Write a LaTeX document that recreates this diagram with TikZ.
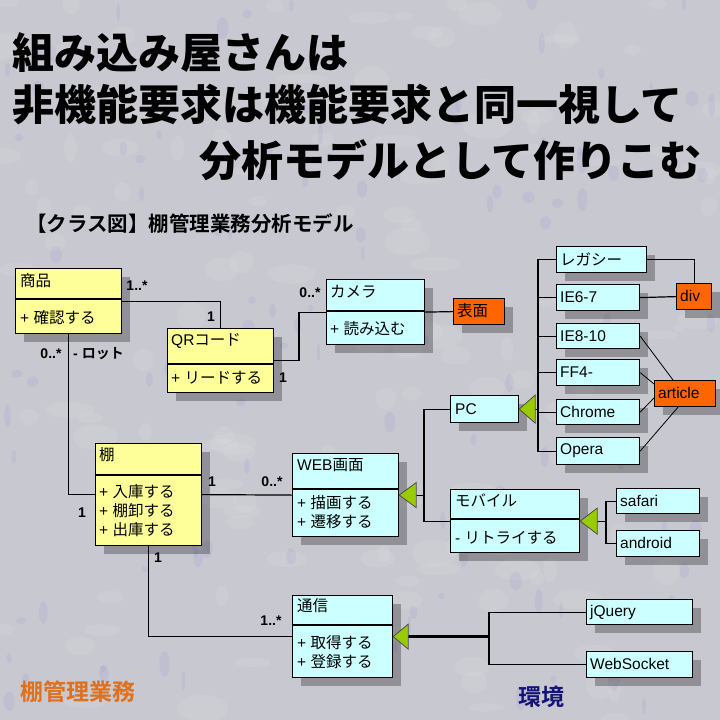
\documentclass[tikz,border=0pt]{standalone}
\usepackage{fontspec}
\setmainfont{Liberation Sans}
\newfontfamily\jp{Noto Sans CJK JP}[BoldFont={Noto Sans CJK JP Bold}]
\newfontfamily\jpblack{Noto Sans CJK JP Black}
\usetikzlibrary{shadows,calc}
\definecolor{bgc}{RGB}{200,200,208}
\definecolor{clsY}{RGB}{255,255,153}
\definecolor{clsC}{RGB}{204,255,255}
\definecolor{clsO}{RGB}{255,102,0}
\definecolor{genG}{RGB}{153,204,0}
\definecolor{orangeT}{RGB}{222,112,30}
\definecolor{navyT}{RGB}{20,20,120}
\definecolor{spotB}{RGB}{120,120,220}
\definecolor{spotL}{RGB}{222,222,226}
\tikzset{
  box/.style={draw, line width=1.2pt, inner sep=0pt, anchor=north west,
    drop shadow={shadow xshift=8pt, shadow yshift=-8pt, fill=black, opacity=0.28}},
  txt/.style={anchor=west, inner sep=0pt, font=\fontsize{15.5}{16}\selectfont},
  mult/.style={inner sep=0pt, font=\bfseries\fontsize{14}{14}\selectfont},
  ttl/.style={inner sep=0pt, font=\jpblack\fontsize{42}{42}\selectfont},
  ln/.style={line width=1.2pt},
  gen/.style={fill=genG, draw=black!70, line width=0.8pt}
}
\newcommand\cbox[6]{\node[box,fill=#6,minimum width=#4pt,minimum height=#5pt] (#1) at (#2,#3) {};}
\begin{document}
\begin{tikzpicture}[x=1pt,y=-1pt]
\useasboundingbox (0,0) rectangle (720,720);
\fill[bgc] (0,0) rectangle (720,720);
% background texture
\begin{scope}
\clip (0,0) rectangle (720,720);
\pgfmathsetseed{11}
\foreach \i in {1,...,140}{
  \pgfmathsetmacro{\px}{rnd*720}
  \pgfmathsetmacro{\py}{rnd*720}
  \pgfmathsetmacro{\rw}{6+rnd*20}
  \pgfmathsetmacro{\rh}{4+rnd*10}
  \fill[spotL, opacity=0.22] (\px,\py) ellipse ({\rw pt} and {\rh pt});
}
\foreach \i in {1,...,110}{
  \pgfmathsetmacro{\px}{rnd*720}
  \pgfmathsetmacro{\py}{rnd*720}
  \pgfmathsetmacro{\rw}{1.5+rnd*5}
  \pgfmathsetmacro{\rh}{3+rnd*10}
  \fill[spotB, opacity=0.10] (\px,\py) ellipse ({\rw pt} and {\rh pt});
}
\end{scope}

% titles
\node[ttl, anchor=west] (t1) at (12,53) {組み込み屋さんは};
\node[ttl, anchor=west] (t2) at (12,105) {非機能要求は機能要求と同一視して};
\node[ttl, anchor=east] (t3) at (702,160) {分析モデルとして作りこむ};
\node[inner sep=0pt, anchor=west, font=\jp\bfseries\fontsize{20.5}{21}\selectfont] (sub) at (26,224) {【クラス図】棚管理業務分析モデル};

% boxes
\cbox{shohin}{15}{268}{106}{65}{clsY}
\cbox{qr}{167}{328}{106}{64}{clsY}
\cbox{camera}{326}{279}{98}{65}{clsC}
\cbox{hyomen}{453}{298}{51}{26}{clsO}
\cbox{legacy}{556}{246}{90}{26}{clsC}
\cbox{ie67}{556}{284}{83}{26}{clsC}
\cbox{ie810}{556}{323}{83}{25}{clsC}
\cbox{ff4}{556}{359}{83}{26}{clsC}
\cbox{chrome}{556}{399}{83}{25}{clsC}
\cbox{opera}{556}{437}{83}{27}{clsC}
\cbox{div}{676}{283}{35}{26}{clsO}
\cbox{article}{654}{380}{61}{26}{clsO}
\cbox{pc}{450}{395}{68}{27}{clsC}
\cbox{web}{292}{453}{106}{83}{clsC}
\cbox{mobile}{450}{489}{129}{63}{clsC}
\cbox{safari}{616}{488}{83}{25}{clsC}
\cbox{android}{616}{530}{83}{26}{clsC}
\cbox{tana}{95}{443}{106}{102}{clsY}
\cbox{tsushin}{292}{595}{100}{82}{clsC}
\cbox{jquery}{586}{599}{106}{25}{clsC}
\cbox{websocket}{586}{651}{106}{26}{clsC}

% dividers
\draw[ln] (shohin.west |- 0,299) -- (shohin.east |- 0,299);
\draw[ln] (qr.west |- 0,364) -- (qr.east |- 0,364);
\draw[ln] (camera.west |- 0,311) -- (camera.east |- 0,311);
\draw[ln] (web.west |- 0,489) -- (web.east |- 0,489);
\draw[ln] (mobile.west |- 0,519) -- (mobile.east |- 0,519);
\draw[ln] (tana.west |- 0,475) -- (tana.east |- 0,475);
\draw[ln] (tsushin.west |- 0,625) -- (tsushin.east |- 0,625);

% box texts
\node[txt] (shohinT) at (20,281) {\jp 商品};
\node[txt] (shohinO) at (20,318) {+ {\jp 確認する}};
\node[txt] (qrT) at (171,341) {QR{\jp コード}};
\node[txt] (qrO) at (171,378) {+ {\jp リードする}};
\node[txt] (cameraT) at (330,292) {\jp カメラ};
\node[txt] (cameraO) at (330,329) {+ {\jp 読み込む}};
\node[txt] (hyomenT) at (457,311) {\jp 表面};
\node[txt] (legacyT) at (560,259) {\jp レガシー};
\node[txt] (ie67T) at (560,297) {IE6-7};
\node[txt] (ie810T) at (560,336) {IE8-10};
\node[txt] (ff4T) at (560,372) {FF4-};
\node[txt] (chromeT) at (560,412) {Chrome};
\node[txt] (operaT) at (560,451) {Opera};
\node[txt] (divT) at (680,296) {div};
\node[txt] (articleT) at (658,393) {article};
\node[txt] (pcT) at (455,409) {PC};
\node[txt] (webT) at (297,465) {WEB{\jp 画面}};
\node[txt] (webO1) at (297,503) {+ {\jp 描画する}};
\node[txt] (webO2) at (297,522) {+ {\jp 遷移する}};
\node[txt] (mobileT) at (455,500) {\jp モバイル};
\node[txt] (mobileO) at (455,538) {- {\jp リトライする}};
\node[txt] (safariT) at (620,501) {safari};
\node[txt] (androidT) at (620,543) {android};
\node[txt] (tanaT) at (99,455) {\jp 棚};
\node[txt] (tanaO1) at (99,492) {+ {\jp 入庫する}};
\node[txt] (tanaO2) at (99,511) {+ {\jp 棚卸する}};
\node[txt] (tanaO3) at (99,530) {+ {\jp 出庫する}};
\node[txt] (tsushinT) at (297,606) {\jp 通信};
\node[txt] (tsushinO1) at (297,643) {+ {\jp 取得する}};
\node[txt] (tsushinO2) at (297,662) {+ {\jp 登録する}};
\node[txt] (jqueryT) at (590,612) {jQuery};
\node[txt] (websocketT) at (590,664) {WebSocket};

% associations
\draw[ln] (shohin.east) -| (qr.north);
\draw[ln] (qr.east) -| (299,336) |- (camera.west);
\draw[ln] (camera.east) -- (hyomen.west);
\draw[ln] (shohin.south) |- (tana.west);
\draw[ln] (tana.east) -- (web.west);
\draw[ln] (tana.south) |- (tsushin.west);

% browsers
\coordinate (trA) at (538,0);
\draw[ln] (legacy.west) -| (trA |- opera.west) -- (opera.west);
\draw[ln] (ie67.west) -- (ie67.west -| trA);
\draw[ln] (ie810.west) -- (ie810.west -| trA);
\draw[ln] (ff4.west) -- (ff4.west -| trA);
\draw[ln] (chrome.west) -- (chrome.west -| trA);
\draw[ln] (legacy.east) -| (div.north);
\draw[ln] (ie67.east) -- (div.west);
\draw[line width=0.8pt] (ie810.east) -- ([xshift=19pt]article.north west);
\draw[line width=0.8pt] (ff4.east) -- ([yshift=-4pt]article.north west);
\draw[line width=0.8pt] (chrome.east) -- ([yshift=-18pt]article.north west);
\draw[line width=0.8pt] (opera.east) -- ([xshift=24pt]article.south west);
\draw[ln] ([xshift=16pt]pc.east) -- (pc.east -| trA);
\filldraw[gen] (pc.east) -- ++(16,-14) -- ++(0,28) -- cycle;

% WEB generalization
\coordinate (trB) at (424,0);
\draw[ln] (pc.west) -| (trB |- mobile.west) -- (mobile.west);
\draw[ln] ([xshift=17pt]web.east) -- (web.east -| trB);
\filldraw[gen] (web.east) -- ++(17,-12.5) -- ++(0,25) -- cycle;

% mobile generalization
\coordinate (trC) at (606,0);
\draw[ln] (safari.west) -| (trC |- android.west) -- (android.west);
\draw[ln] ([xshift=17pt]mobile.east) -- (mobile.east -| trC);
\filldraw[gen] (mobile.east) -- ++(17,-13) -- ++(0,26) -- cycle;

% tsushin generalization
\coordinate (trD) at (489,0);
\draw[ln] (jquery.west) -| (trD |- websocket.west) -- (websocket.west);
\draw[line width=2.4pt] ([xshift=15pt]tsushin.east) -- (tsushin.east -| trD);
\filldraw[gen] (tsushin.east) -- ++(15,-12.5) -- ++(0,25) -- cycle;

% multiplicities
\node[mult] (m1) at (137,286) {1..*};
\node[mult] (m2) at (211,317) {1};
\node[mult] (m3) at (310,293) {0..*};
\node[mult] (m4) at (283,378) {1};
\node[mult] (m5) at (51,354) {0..*};
\node[mult, anchor=west] (m6) at (73,354) {- {\jp ロット}};
\node[mult] (m7) at (82,513) {1};
\node[mult] (m8) at (212,482) {1};
\node[mult] (m9) at (272,482) {0..*};
\node[mult] (m10) at (158,558) {1};
\node[mult] (m11) at (271,621) {1..*};

% area labels
\node[inner sep=0pt, anchor=west, text=orangeT, font=\jp\bfseries\fontsize{23}{23}\selectfont] (area1) at (20,692) {棚管理業務};
\node[inner sep=0pt, anchor=west, text=navyT, font=\jp\bfseries\fontsize{23}{23}\selectfont] (area2) at (518,697) {環境};
\end{tikzpicture}
\end{document}
